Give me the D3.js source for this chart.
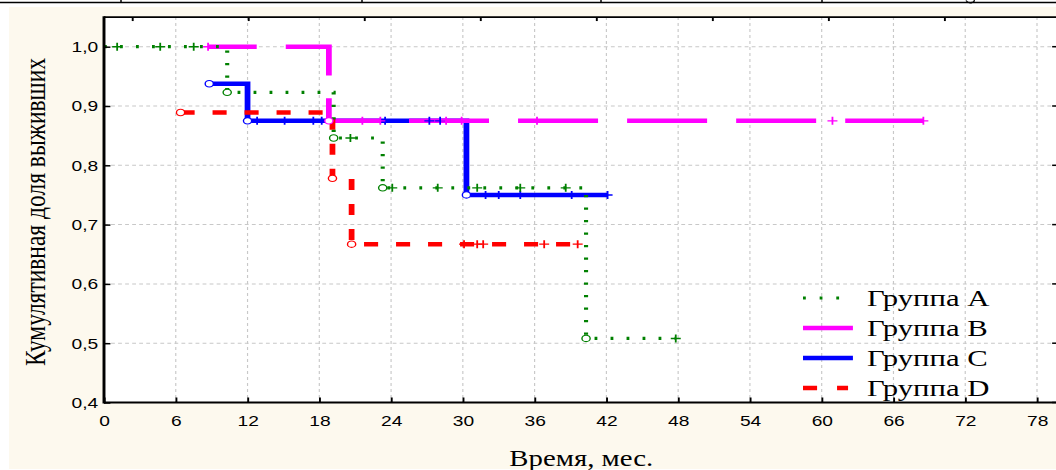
<!DOCTYPE html>
<html>
<head>
<meta charset="utf-8">
<script src="https://cdn.jsdelivr.net/npm/d3@7"></script>
<style>
  body { margin: 0; background: #fff; }
  .tick text { font-family: "Liberation Sans", Arial, sans-serif; font-size: 15px; fill: #000; }
</style>
</head>
<body>
<svg id="chart" width="1056" height="470"></svg>
<script>
// Kaplan-Meier curves, time in months, cumulative proportion surviving
const groupNames = ["Группа A", "Группа B", "Группа C", "Группа D"];
const startTimes = [0, 8.7, 8.8, 6.4];

const eventTimesA = [10.3, 19.2, 23.3, 40.3];
const eventSurvA = [0.923, 0.846, 0.762, 0.508];
const censorTimesA = [1.1, 4.7, 7.5, 20.6, 24.1, 27.9, 31.2, 34.8, 38.6, 47.8];

const eventTimesB = [18.8];
const eventSurvB = [0.875];
const censorTimesB = [8.7, 21.6, 23.1, 28.6, 29.9, 36.2, 60.9, 68.5];

const eventTimesC = [8.8, 12.0, 30.3];
const eventSurvC = [0.9375, 0.875, 0.75];
const censorTimesC = [12.8, 15.1, 17.5, 18.2, 23.5, 27.2, 28.1, 31.9, 33.0, 34.8, 39.1, 42.1];

const eventTimesD = [6.4, 19.1, 20.7];
const eventSurvD = [0.889, 0.778, 0.667];
const censorTimesD = [30.1, 31.2, 31.7, 36.8, 39.6];

const xTickValues = [0, 6, 12, 18, 24, 30, 36, 42, 48, 54, 60, 66, 72, 78];
const yTickValues = [0.4, 0.5, 0.6, 0.7, 0.8, 0.9, 1.0];
const topTickValues = [2.4, 12.1, 21.8, 31.5, 41.2, 50.9, 60.6, 70.3];

const xTitle = "Время, мес.";
const yTitle = "Кумулятивная доля выживших";

// the picture is stretched horizontally, so everything is drawn in a scaled group
const SX = 1.28;
const W = 1056, H = 470;

const groups = [
  {name: groupNames[0], start: startTimes[0], et: eventTimesA, es: eventSurvA, ct: censorTimesA,
   color: "#008000", width: 3.2, dash: "2.2,10.3", offset: 0},
  {name: groupNames[1], start: startTimes[1], et: eventTimesB, es: eventSurvB, ct: censorTimesB,
   color: "#ff00ff", width: 4.5, dash: "62.5,22.7", offset: 24.5},
  {name: groupNames[2], start: startTimes[2], et: eventTimesC, es: eventSurvC, ct: censorTimesC,
   color: "#0000ff", width: 4.5, dash: null, offset: 0},
  {name: groupNames[3], start: startTimes[3], et: eventTimesD, es: eventSurvD, ct: censorTimesD,
   color: "#ff0000", width: 4.5, dash: "11,14", offset: 0}
];

const svg = d3.select("#chart");

// page background and the cut table border at the top
svg.append("rect").attr("width", W).attr("height", H).attr("fill", "#fff");
svg.append("rect").attr("x", 9).attr("y", 7).attr("width", W - 9).attr("height", 462).attr("fill", "#fdf9ee");
svg.append("line").attr("x1", 0).attr("x2", W).attr("y1", 2.5).attr("y2", 2.5)
  .attr("stroke", "#000").attr("stroke-width", 1.6);
[121, 362, 601, 822].forEach(cx => {
  svg.append("line").attr("x1", cx).attr("x2", cx).attr("y1", 0).attr("y2", 3)
    .attr("stroke", "#000").attr("stroke-width", 1.5);
});
// tail of a letter from the table above
svg.append("path").attr("d", "M966,0.5 Q968,3.5 972,2.5 Q975,1.5 974,0")
  .attr("fill", "none").attr("stroke", "#000").attr("stroke-width", 1.3);

const g = svg.append("g").attr("transform", `scale(${SX},1)`);

const x = d3.scaleLinear().domain([0, 78]).range([104 / SX, 1037 / SX]);
const y = d3.scaleLinear().domain([0.4, 1.0]).range([402.5, 46.7]);
const xMax = 79.8, yMax = 1.05;

const pLeft = x(0), pRight = x(xMax), pTop = y(yMax), pBottom = y(0.4);

g.append("rect").attr("x", pLeft).attr("y", pTop)
  .attr("width", pRight - pLeft).attr("height", pBottom - pTop).attr("fill", "#fff");

// grid
g.append("g").selectAll("line").data(xTickValues.slice(1)).join("line")
  .attr("x1", d => x(d)).attr("x2", d => x(d)).attr("y1", pTop).attr("y2", pBottom)
  .attr("stroke", "#c8c8c8").attr("stroke-width", 0.9).attr("stroke-dasharray", "3,3");
g.append("g").selectAll("line").data(yTickValues.slice(1)).join("line")
  .attr("x1", pLeft).attr("x2", pRight).attr("y1", d => y(d)).attr("y2", d => y(d))
  .attr("stroke", "#c8c8c8").attr("stroke-width", 1).attr("stroke-dasharray", "3,2.5");

// survival step function
function surv(grp, t) {
  let s = 1;
  grp.et.forEach((e, i) => { if (e <= t) s = grp.es[i]; });
  return s;
}

const line = d3.line().x(d => x(d[0])).y(d => y(d[1])).curve(d3.curveStepAfter);

function stepPoints(grp) {
  let pts = [[grp.start, surv(grp, grp.start)]];
  grp.et.forEach((e, i) => { if (e > grp.start) pts.push([e, grp.es[i]]); });
  let end = d3.max(grp.et.concat(grp.ct));
  pts.push([end, surv(grp, end)]);
  return pts;
}

// lines, C under B, then D and A
[2, 1, 3, 0].forEach(k => {
  let grp = groups[k];
  g.append("path").datum(stepPoints(grp))
    .attr("d", line)
    .attr("fill", "none")
    .attr("stroke", grp.color)
    .attr("stroke-width", grp.width)
    .attr("stroke-dasharray", grp.dash)
    .attr("stroke-dashoffset", grp.offset);
});

// markers: circles for events, crosses for censored
[2, 1, 3, 0].forEach(k => {
  let grp = groups[k];
  let mk = g.append("g");
  mk.selectAll("path.cens").data(grp.ct).join("path").attr("class", "cens")
    .attr("d", t => {
      let cx = x(t), cy = y(surv(grp, t));
      return `M${cx - 3.9},${cy}H${cx + 3.9}M${cx},${cy - 4}V${cy + 4}`;
    })
    .attr("stroke", grp.color).attr("stroke-width", 1.4).attr("fill", "none");
  mk.selectAll("circle").data(grp.et).join("circle")
    .attr("cx", t => x(t)).attr("cy", (t, i) => y(grp.es[i])).attr("r", 3.2)
    .attr("fill", "#fff").attr("stroke", grp.color).attr("stroke-width", 1.1);
});

// axes
const fmt = d => d.toFixed(1).replace(".", ",");

const xAxis = g.append("g").attr("transform", `translate(0,${pBottom})`)
  .call(d3.axisBottom(x).tickValues(xTickValues).tickSize(-5).tickSizeOuter(0).tickPadding(12.5).tickFormat(d3.format("d")));
const yAxis = g.append("g").attr("transform", `translate(${pLeft},0)`)
  .call(d3.axisLeft(y).tickValues(yTickValues).tickSize(-5).tickSizeOuter(0).tickPadding(4.5).tickFormat(fmt));

xAxis.select(".domain").remove();
yAxis.select(".domain").remove();
g.selectAll(".tick line").attr("stroke", "#000").attr("stroke-width", 1.5);

// frame
g.append("line").attr("x1", pLeft).attr("x2", pRight).attr("y1", pBottom).attr("y2", pBottom)
  .attr("stroke", "#000").attr("stroke-width", 2.2);
g.append("line").attr("x1", pLeft).attr("x2", pRight).attr("y1", pTop).attr("y2", pTop)
  .attr("stroke", "#000").attr("stroke-width", 1.8);
g.append("line").attr("x1", pLeft).attr("x2", pLeft).attr("y1", pTop - 0.9).attr("y2", pBottom + 1.1)
  .attr("stroke", "#000").attr("stroke-width", 2.3);
g.append("line").attr("x1", pRight).attr("x2", pRight).attr("y1", pTop).attr("y2", pBottom)
  .attr("stroke", "#000").attr("stroke-width", 2);

// top and right small ticks
g.append("g").selectAll("line").data(topTickValues).join("line")
  .attr("x1", d => x(d)).attr("x2", d => x(d)).attr("y1", pTop).attr("y2", pTop + 4)
  .attr("stroke", "#000").attr("stroke-width", 1.5);
g.append("g").selectAll("line").data(yTickValues).join("line")
  .attr("x1", pRight - 5).attr("x2", pRight).attr("y1", d => y(d)).attr("y2", d => y(d))
  .attr("stroke", "#000").attr("stroke-width", 1.5);

// titles
g.append("text")
  .attr("x", (x(0) + pRight) / 2).attr("y", 466)
  .attr("text-anchor", "middle")
  .style("font-family", "Liberation Serif, 'Times New Roman', serif").style("font-size", "22.5px")
  .text(xTitle);
g.append("text")
  .attr("transform", `translate(${45 / SX},212) rotate(-90)`)
  .attr("text-anchor", "middle")
  .style("font-family", "Liberation Serif, 'Times New Roman', serif").style("font-size", "23.5px")
  .text(yTitle);

// legend
const legX = 803 / SX, legLen = [38, 39, 39, 35.2];
const legend = g.append("g").selectAll("g").data(groups).join("g")
  .attr("transform", (d, i) => `translate(${legX},${306 + i * 30})`);
legend.append("line")
  .attr("x1", 0).attr("x2", (d, i) => legLen[i]).attr("y1", -8).attr("y2", -8)
  .attr("stroke", d => d.color)
  .attr("stroke-width", (d, i) => i == 0 ? 3.2 : 4.5)
  .attr("stroke-dasharray", (d, i) => i == 0 ? "2.2,10.8" : (i == 3 ? "11,15.6" : null));
legend.append("text")
  .attr("x", 867 / SX - legX).attr("y", 0)
  .style("font-family", "Liberation Serif, 'Times New Roman', serif").style("font-size", "24px")
  .text(d => d.name);
</script>
</body>
</html>
